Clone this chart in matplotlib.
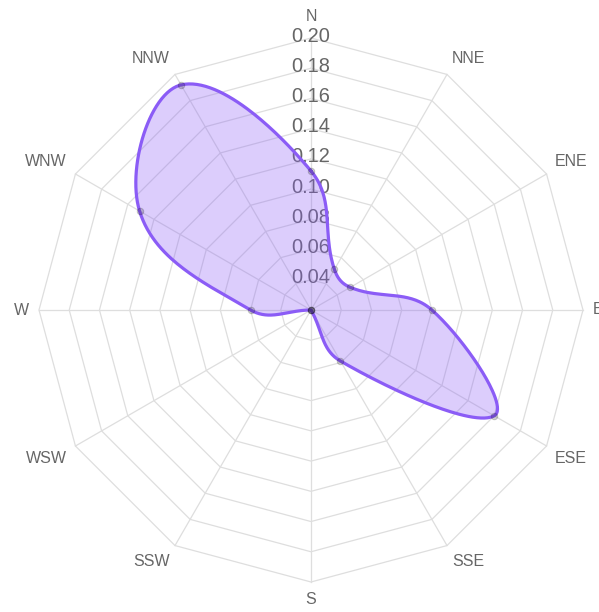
import numpy as np
import matplotlib
matplotlib.use("Agg")
import matplotlib.pyplot as plt

# ---- data ----
directions = ["N", "NNE", "ENE", "E", "ESE", "SSE", "S", "SSW", "WSW", "W", "WNW", "NNW"]
values = [0.112, 0.051, 0.050, 0.100, 0.160, 0.059, 0.020, 0.020, 0.020, 0.060, 0.151, 0.192]
tick_values = [0.04, 0.06, 0.08, 0.10, 0.12, 0.14, 0.16, 0.18, 0.20]
tick_labels = ["0.04", "0.06", "0.08", "0.10", "0.12", "0.14", "0.16", "0.18", "0.20"]
r_min, r_max = 0.02, 0.20

# ---- style ----
W_PX, H_PX = 599, 612
CX, CY = 311, 310          # centre in pixels (from top-left)
R = 272                     # outer radius in pixels
LINE = "#8B5CF6"
GRID = "#dedede"
TXT = "#666666"
TENSION = 0.4

fig = plt.figure(figsize=(W_PX / 100, H_PX / 100), dpi=100)
ax = fig.add_axes([0, 0, 1, 1])
ax.set_xlim(-CX, W_PX - CX)
ax.set_ylim(-(H_PX - CY), CY)
ax.set_aspect("equal")
ax.axis("off")

n = len(directions)
angles = np.arange(n) * 2 * np.pi / n  # clockwise from north


def scale(v):
    return (np.asarray(v, dtype=float) - r_min) / (r_max - r_min) * R


def to_xy(r, a):
    return r * np.sin(a), r * np.cos(a)


# grid polygons
for tv in tick_values:
    rr = scale(tv)
    xs, ys = to_xy(rr, np.append(angles, angles[0]))
    ax.plot(xs, ys, color=GRID, lw=0.9, zorder=1)
# angle lines
for a in angles:
    x, y = to_xy(R, a)
    ax.plot([0, x], [0, y], color=GRID, lw=0.9, zorder=1)

# tick labels along north axis
for tv, tl in zip(tick_values, tick_labels):
    ax.text(0, scale(tv) + 2, tl, ha="center", va="center", fontsize=14.4,
            color=TXT, family="Liberation Sans", zorder=2)

# point labels
LR = 282
for name, a in zip(directions, angles):
    x, y = to_xy(LR, a)
    deg = np.degrees(a) % 360
    if np.isclose(deg, 0) or np.isclose(deg, 180):
        ha = "center"
    elif deg < 180:
        ha = "left"
    else:
        ha = "right"
    if np.isclose(deg, 90) or np.isclose(deg, 270):
        va = "center"
    elif deg < 90 or deg > 270:
        va = "bottom"
    else:
        va = "top"
    if np.isclose(deg, 0):
        y += 4
    ax.text(x, y, name, ha=ha, va=va, fontsize=11.5, color=TXT,
            family="Liberation Sans", zorder=2)

# data points
rs = scale(values)
px, py = to_xy(rs, angles)
P = np.column_stack([px, py])

# Chart.js-like spline (closed)
cps_prev = np.zeros_like(P)
cps_next = np.zeros_like(P)
for i in range(n):
    prev = P[(i - 1) % n]
    cur = P[i]
    nxt = P[(i + 1) % n]
    d01 = np.hypot(*(cur - prev))
    d12 = np.hypot(*(nxt - cur))
    tot = d01 + d12
    s01 = d01 / tot if tot > 0 else 0.0
    s12 = d12 / tot if tot > 0 else 0.0
    cps_prev[i] = cur - TENSION * s01 * (nxt - prev)
    cps_next[i] = cur + TENSION * s12 * (nxt - prev)

t = np.linspace(0, 1, 60)[:, None]
seg = []
for i in range(n):
    j = (i + 1) % n
    b = ((1 - t) ** 3) * P[i] + 3 * ((1 - t) ** 2) * t * cps_next[i] + \
        3 * (1 - t) * t ** 2 * cps_prev[j] + t ** 3 * P[j]
    seg.append(b)
curve = np.vstack(seg)

ax.fill(curve[:, 0], curve[:, 1], color=LINE, alpha=0.3, lw=0, zorder=3)
ax.plot(curve[:, 0], curve[:, 1], color=LINE, lw=2.3, zorder=4,
        solid_joinstyle="round")
ax.scatter(px, py, s=22, color=(0, 0, 0, 0.18), edgecolors=(0, 0, 0, 0.18),
           linewidths=0.7, zorder=5)

fig.savefig("out.png", dpi=100)
